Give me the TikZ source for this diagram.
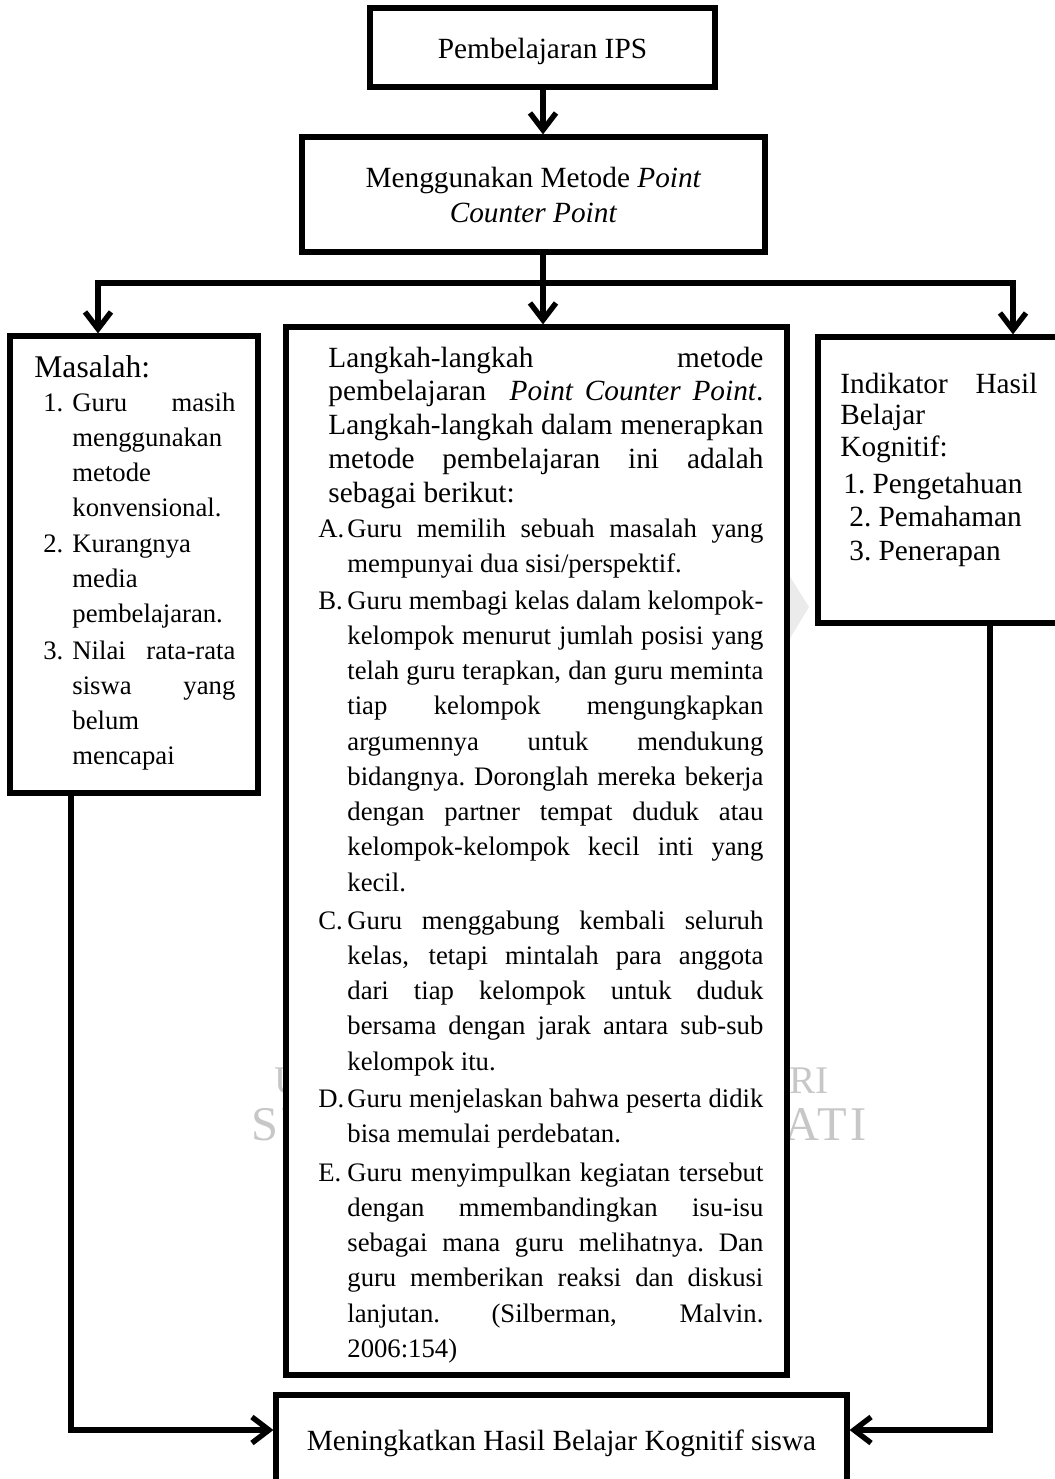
\documentclass[tikz,border=0pt]{standalone}
\usepackage{fontspec}
\setmainfont{Liberation Serif}
\usetikzlibrary{arrows.meta,fit}
\newlength\indw
\newcommand\JLine[1]{\hbox to \hsize{\hskip\indw\hbox to \dimexpr\hsize-\indw\relax{\spaceskip=.25em plus 1fil minus .08em\relax\xspaceskip=\spaceskip\relax #1}}}
\newcommand\FLine[1]{\hbox to \hsize{\hskip\indw #1\hfil}}
\newcommand\ILine[2]{\hbox to \hsize{\hbox to \indw{#1\hfil}\hbox to \dimexpr\hsize-\indw\relax{\spaceskip=.25em plus 1fil minus .08em\relax\xspaceskip=\spaceskip\relax #2}}}
\newcommand\IFLine[2]{\hbox to \hsize{\hbox to \indw{#1\hfil}#2\hfil}}
\newcommand\MidItem{\fontsize{13.35pt}{17.625pt}\selectfont\hsize=222.5pt\indw=14.5pt\lineskiplimit=-20pt\lineskip=0pt}
\newcommand\LeftItem{\fontsize{13.35pt}{17.55pt}\selectfont\hsize=96pt\indw=14.5pt\lineskiplimit=-20pt\lineskip=0pt}
\begin{document}
\begin{tikzpicture}[x=0.5pt,y=-0.5pt,
  box/.style={draw, line width=2.6pt, fill=white, inner sep=0pt},
  conn/.style={line width=2.7pt},
  arr/.style={conn, -{Straight Barb[length=8.5pt,width=13pt]}},
  wm/.style={text=black!22, inner sep=0pt},
  wmA/.style={wm, font=\fontsize{19.6pt}{20pt}\selectfont},
  wmB/.style={wm, font=\fontsize{24.2pt}{25pt}\selectfont\addfontfeatures{LetterSpace=7}},
  txt/.style={inner sep=0pt, font=\fontsize{14.65pt}{16.9pt}\selectfont}]
\useasboundingbox (0,0) rectangle (1055,1479);
\clip (0,0) rectangle (1055,1479);
% watermark fragments (behind the boxes)
\fill[black!8] (789,575) -- (809,607) -- (789,640) -- cycle;
\node[wmA, anchor=base west] (wmU) at (274,1093) {U};
\node[wmB, anchor=base west] (wmSU) at (251,1140) {SU};
\node[wmA, anchor=base west] (wmRI) at (789,1093) {RI};
\node[wmB, anchor=base west] (wmATI) at (784,1140) {ATI};
% boxes
\node[box, fit={(370,8) (715,87)}] (ips) {};
\node[box, fit={(302,137) (765,252)}] (metode) {};
\node[box, fit={(10,336) (258,793)}] (masalah) {};
\node[box, fit={(286,327) (787,1375)}] (langkah) {};
\node[box, fit={(818,337) (1075,623)}] (indikator) {};
\node[box, fit={(276,1395) (847,1510)}] (hasil) {};
% texts
\node[txt, anchor=base] (t1) at (542.5,58) {Pembelajaran IPS};
\node[txt, anchor=base] (t2a) at (533.5,187) {Menggunakan Metode \textit{Point}};
\node[txt, anchor=base] (t2b) at (533.5,222) {\textit{Counter Point}};
\node[txt, anchor=base] (t3) at (561.5,1450) {Meningkatkan Hasil Belajar Kognitif siswa};
% middle box
\node[inner sep=0pt, anchor=base west] (intro) at (318,367) {\vtop{\fontsize{14.65pt}{16.9pt}\selectfont\hsize=222.5pt\indw=5pt\lineskiplimit=-20pt\lineskip=0pt
  \JLine{Langkah-langkah metode}
  \JLine{pembelajaran\ \ \textit{Point Counter Point}.}
  \JLine{Langkah-langkah dalam menerapkan}
  \JLine{metode pembelajaran ini adalah}
  \FLine{sebagai berikut:}}};
\node[inner sep=0pt, anchor=base west] (stepA) at (318,537) {\vtop{\MidItem
  \ILine{A.}{Guru memilih sebuah masalah yang}
  \FLine{mempunyai dua sisi/perspektif.}}};
\node[inner sep=0pt, anchor=base west] (stepB) at (318,609) {\vtop{\MidItem
  \ILine{B.}{Guru membagi kelas dalam kelompok-}
  \JLine{kelompok menurut jumlah posisi yang}
  \JLine{telah guru terapkan, dan guru meminta}
  \JLine{tiap kelompok mengungkapkan}
  \JLine{argumennya untuk mendukung}
  \JLine{bidangnya. Doronglah mereka bekerja}
  \JLine{dengan partner tempat duduk atau}
  \JLine{kelompok-kelompok kecil inti yang}
  \FLine{kecil.}}};
\node[inner sep=0pt, anchor=base west] (stepC) at (318,929) {\vtop{\MidItem
  \ILine{C.}{Guru menggabung kembali seluruh}
  \JLine{kelas, tetapi mintalah para anggota}
  \JLine{dari tiap kelompok untuk duduk}
  \JLine{bersama dengan jarak antara sub-sub}
  \FLine{kelompok itu.}}};
\node[inner sep=0pt, anchor=base west] (stepD) at (318,1107) {\vtop{\MidItem
  \ILine{D.}{Guru menjelaskan bahwa peserta didik}
  \FLine{bisa memulai perdebatan.}}};
\node[inner sep=0pt, anchor=base west] (stepE) at (318,1181) {\vtop{\MidItem
  \ILine{E.}{Guru menyimpulkan kegiatan tersebut}
  \JLine{dengan mmembandingkan isu-isu}
  \JLine{sebagai mana guru melihatnya. Dan}
  \JLine{guru memberikan reaksi dan diskusi}
  \JLine{lanjutan. (Silberman, Malvin.}
  \FLine{2006:154)}}};
% left box
\node[inner sep=0pt, anchor=base west, font=\fontsize{15.8pt}{18pt}\selectfont] (mtitle) at (34,377) {Masalah:};
\node[inner sep=0pt, anchor=base west] (m1) at (43,411) {\vtop{\LeftItem
  \ILine{1.}{Guru masih}
  \FLine{menggunakan}
  \FLine{metode}
  \FLine{konvensional.}}};
\node[inner sep=0pt, anchor=base west] (m2) at (43,552) {\vtop{\LeftItem
  \IFLine{2.}{Kurangnya}
  \FLine{media}
  \FLine{pembelajaran.}}};
\node[inner sep=0pt, anchor=base west] (m3) at (43,659) {\vtop{\LeftItem
  \ILine{3.}{Nilai rata-rata}
  \JLine{siswa yang}
  \FLine{belum}
  \FLine{mencapai}}};
% right box
\node[inner sep=0pt, anchor=base west] (ihead) at (840,393) {\vtop{\fontsize{14.65pt}{15.75pt}\selectfont\hsize=98.5pt\indw=0pt\lineskiplimit=-20pt\lineskip=0pt
  \JLine{Indikator Hasil}
  \FLine{Belajar}
  \FLine{Kognitif:}}};
\node[inner sep=0pt, anchor=base west] (ilist) at (843,493) {\vtop{\fontsize{14.65pt}{16.75pt}\selectfont\hsize=100pt\lineskiplimit=-20pt\lineskip=0pt
  \hbox{1.\ Pengetahuan}
  \hbox{\hskip3pt 2.\ Pemahaman}
  \hbox{\hskip3pt 3.\ Penerapan}}};
% connectors
\coordinate (split) at (543,283);
\coordinate (jl) at (98,283);
\coordinate (jr) at (1013,283);
\coordinate (bl) at (71,1430);
\coordinate (br) at (990,1430);
\draw[arr] (ips.south -| split) -- (metode.north -| split);
\draw[arr] (metode.south -| split) -- (langkah.north -| split);
\draw[arr] (split) -| (jl |- masalah.north);
\draw[arr] (split) -| (jr |- indikator.north);
\draw[arr] (masalah.south -| bl) |- (bl -| hasil.west);
\draw[arr] (indikator.south -| br) |- (br -| hasil.east);
\end{tikzpicture}
\end{document}
